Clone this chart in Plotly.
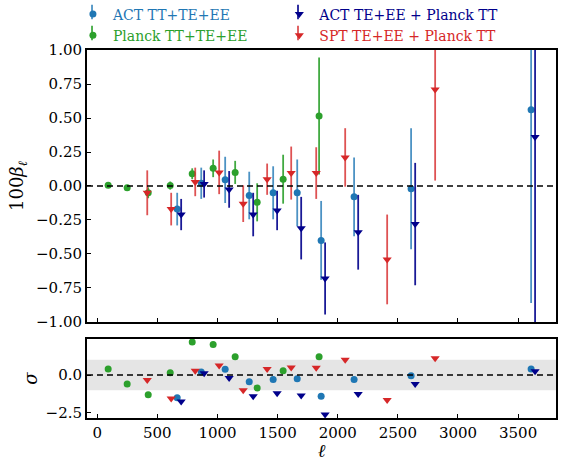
import plotly.graph_objects as go

# Multipole positions, amplitudes (100*beta_ell), 1-sigma errors and significance
ell_act = [665, 865, 1064, 1264, 1463, 1663, 1862, 2136, 2610, 3608]
beta_act = [-0.17, 0.02, 0.045, -0.07, -0.05, -0.05, -0.40, -0.08, -0.02, 0.56]
err_act = [0.12, 0.115, 0.17, 0.175, 0.195, 0.245, 0.29, 0.29, 0.445, 1.42]
sig_act = [-1.5, 0.2, 0.38, -0.45, -0.3, -0.25, -1.4, -0.3, -0.05, 0.4]

ell_planck = [91, 249, 424, 607, 790, 964, 1147, 1330, 1546, 1845]
beta_planck = [0.005, -0.012, -0.05, 0.003, 0.09, 0.13, 0.10, -0.12, 0.05, 0.515]
err_planck = [0.013, 0.02, 0.04, 0.03, 0.04, 0.065, 0.085, 0.14, 0.18, 0.43]
sig_planck = [0.39, -0.6, -1.3, 0.15, 2.17, 2.0, 1.2, -0.85, 0.28, 1.2]

ell_actp = [698, 889, 1097, 1297, 1496, 1696, 1895, 2170, 2644, 3641]
beta_actp = [-0.21, 0.015, -0.025, -0.21, -0.18, -0.31, -0.68, -0.34, -0.28, 0.36]
err_actp = [0.115, 0.10, 0.135, 0.16, 0.145, 0.23, 0.265, 0.275, 0.45, 1.5]
sig_actp = [-1.75, 0.12, -0.2, -1.4, -1.2, -1.35, -2.6, -1.25, -0.6, 0.25]

ell_spt = [416, 615, 815, 1014, 1214, 1413, 1613, 1821, 2062, 2411, 2810]
beta_spt = [-0.05, -0.17, 0.03, 0.10, -0.13, 0.05, 0.095, 0.095, 0.21, -0.54, 0.71]
err_spt = [0.165, 0.12, 0.105, 0.16, 0.135, 0.115, 0.195, 0.19, 0.215, 0.33, 0.67]
sig_spt = [-0.33, -1.55, 0.28, 0.63, -1.0, 0.4, 0.5, 0.47, 1.0, -1.65, 1.1]

FONT = "DejaVu Serif"

series = [
    ("ACT TT+TE+EE", ell_act, beta_act, err_act, sig_act,
     "#1f77b4", "rgba(31,119,180,0.8)", "circle", 7, "legend"),
    ("Planck TT+TE+EE", ell_planck, beta_planck, err_planck, sig_planck,
     "#2ca02c", "rgba(44,160,44,0.9)", "circle", 7, "legend"),
    ("ACT TE+EE + Planck TT", ell_actp, beta_actp, err_actp, sig_actp,
     "#00008b", "rgba(0,0,139,0.9)", "triangle-down", 8, "legend2"),
    ("SPT TE+EE + Planck TT", ell_spt, beta_spt, err_spt, sig_spt,
     "#d62728", "rgba(214,39,40,0.8)", "triangle-down", 8, "legend2"),
]

fig = go.Figure()

for name, ell, beta, err, sig, col, ecol, sym, size, leg in series:
    fig.add_trace(go.Scatter(
        x=ell, y=beta, mode="markers",
        name=f"<span style='color:{col}'>{name}</span>",
        legend=leg,
        marker=dict(color=col, symbol=sym, size=size, line=dict(width=0)),
        error_y=dict(type="data", array=err, visible=True, color=ecol,
                     thickness=1.8, width=0),
        xaxis="x", yaxis="y", cliponaxis=True,
    ))
    fig.add_trace(go.Scatter(
        x=ell, y=sig, mode="markers", showlegend=False,
        marker=dict(color=col, symbol=sym, size=size, line=dict(width=0)),
        xaxis="x2", yaxis="y2",
    ))

# +/-1 sigma band and zero lines
fig.add_shape(type="rect", xref="x2 domain", yref="y2", x0=0, x1=1, y0=-1, y1=1,
              fillcolor="#e5e5e5", line=dict(width=0), layer="below")
for yr in ("y", "y2"):
    xr = "x domain" if yr == "y" else "x2 domain"
    fig.add_shape(type="line", xref=xr, yref=yr, x0=0, x1=1, y0=0, y1=0,
                  line=dict(color="black", width=1.5, dash="6px,4px"), layer="above")

# Error-bar strokes behind the legend symbols (errorbar-style legend glyphs)
legend_glyph_x = [0.0107, 0.0107, 0.4499, 0.4499]
legend_glyph_y = [1.1033, 1.0462, 1.1033, 1.0462]
for (_, _, _, _, _, _, ecol, _, _, _), gx, gy in zip(series, legend_glyph_x, legend_glyph_y):
    fig.add_shape(type="line", xref="paper", yref="paper",
                  x0=gx, x1=gx, y0=gy - 0.02, y1=gy + 0.02,
                  line=dict(color=ecol, width=1.8), layer="above")

axis_common = dict(showline=True, linewidth=2, linecolor="black", mirror=True,
                   ticks="inside", ticklen=4, tickwidth=1.2, tickcolor="black",
                   showgrid=False, zeroline=False,
                   tickfont=dict(family=FONT, size=15, color="black"))

xrange = [-85, 3815]
top_dom = [0.2609, 1.0]
bot_dom = [0.0, 0.2147]

fig.update_layout(
    width=565, height=461,
    margin=dict(l=87, r=9, t=50, b=43, autoexpand=False),
    plot_bgcolor="white", paper_bgcolor="white",
    font=dict(family=FONT, size=14, color="black"),
    xaxis=dict(axis_common, domain=[0, 1], anchor="y", range=xrange,
               matches="x2", showticklabels=False,
               tickvals=[0, 500, 1000, 1500, 2000, 2500, 3000, 3500]),
    yaxis=dict(axis_common, domain=top_dom, anchor="x", range=[-1, 1],
               tickvals=[-1, -0.75, -0.5, -0.25, 0, 0.25, 0.5, 0.75, 1],
               tickformat=".2f",
               title=dict(text="100<i>β</i><sub><i>ℓ</i></sub>",
                          font=dict(family=FONT, size=18), standoff=8)),
    xaxis2=dict(axis_common, domain=[0, 1], anchor="y2", range=xrange,
                tickvals=[0, 500, 1000, 1500, 2000, 2500, 3000, 3500],
                title=dict(text="<i>ℓ</i>", font=dict(family=FONT, size=18),
                           standoff=2)),
    yaxis2=dict(axis_common, domain=bot_dom, anchor="x2", range=[-2.83, 2.37],
                tickvals=[-2.5, 0], tickformat=".1f",
                title=dict(text="<i>σ</i>", font=dict(family=FONT, size=18),
                           standoff=3)),
    legend=dict(x=-0.03, y=1.14, xanchor="left", yanchor="top",
                bgcolor="rgba(0,0,0,0)", font=dict(family=FONT, size=14),
                tracegroupgap=0, itemwidth=30),
    legend2=dict(x=0.41, y=1.14, xanchor="left", yanchor="top",
                 bgcolor="rgba(0,0,0,0)", font=dict(family=FONT, size=14),
                 tracegroupgap=0, itemwidth=30),
)

fig.write_html("out.html")
